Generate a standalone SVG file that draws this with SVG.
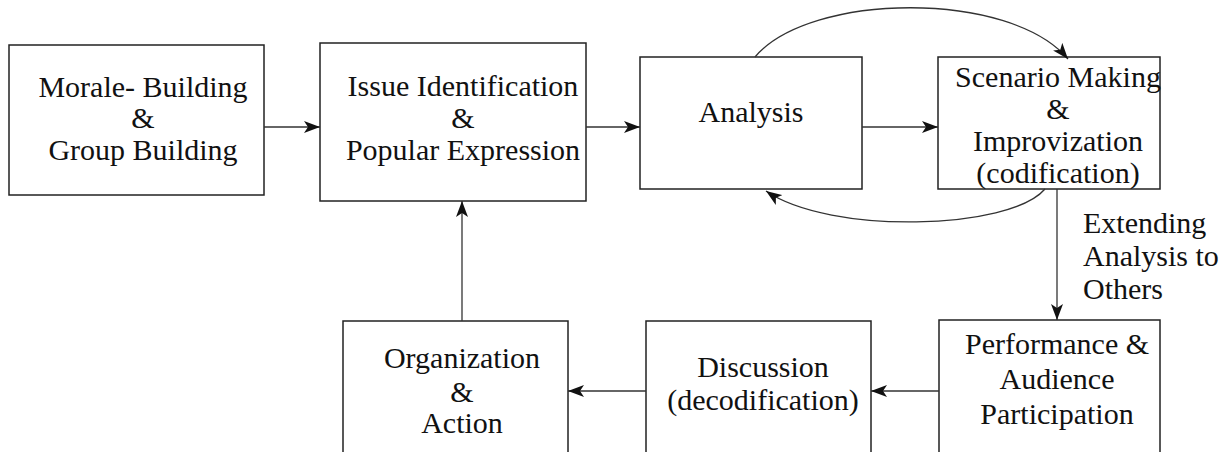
<svg xmlns="http://www.w3.org/2000/svg" width="1231" height="452" viewBox="0 0 1231 452">
<style>
.box{fill:#fff;stroke:#222;stroke-width:1.5}
.t{font-family:'Liberation Serif','Times New Roman',serif;font-size:30px;fill:#111;text-anchor:middle}
.c{fill:none;stroke:#333;stroke-width:1.3}
</style>
<defs>
<marker id="ah" viewBox="0 0 16 12" refX="16" refY="6" markerWidth="16" markerHeight="12" markerUnits="userSpaceOnUse" orient="auto">
<path d="M0,0 L16,6 L0,12 L4,6 Z" fill="#111"/>
</marker>
</defs>
<rect width="1231" height="452" fill="#fff"/>
<g id="n1"><rect class="box" x="9" y="45" width="255" height="150"/>
<text class="t" x="143" y="97">Morale- Building</text><text class="t" x="143" y="128">&amp;</text><text class="t" x="143" y="160">Group Building</text></g>
<g id="n2"><rect class="box" x="320" y="43" width="266" height="158"/>
<text class="t" x="463" y="96">Issue Identification</text><text class="t" x="463" y="128">&amp;</text><text class="t" x="463" y="160">Popular Expression</text></g>
<g id="n3"><rect class="box" x="640" y="57" width="222" height="132"/>
<text class="t" x="751" y="122">Analysis</text></g>
<g id="n4"><rect class="box" x="938" y="57" width="222" height="132"/>
<text class="t" x="1058" y="87">Scenario Making</text><text class="t" x="1058" y="119">&amp;</text><text class="t" x="1058" y="151">Improvization</text><text class="t" x="1058" y="183">(codification)</text></g>
<g id="n5"><rect class="box" x="939" y="320" width="221" height="140"/>
<text class="t" x="1057" y="354">Performance &amp;</text><text class="t" x="1057" y="389">Audience</text><text class="t" x="1057" y="424">Participation</text></g>
<g id="n6"><rect class="box" x="646" y="321" width="225" height="140"/>
<text class="t" x="763" y="377">Discussion</text><text class="t" x="763" y="410">(decodification)</text></g>
<g id="n7"><rect class="box" x="343" y="321" width="225" height="140"/>
<text class="t" x="462" y="368">Organization</text><text class="t" x="462" y="402">&amp;</text><text class="t" x="462" y="433">Action</text></g>
<g id="connectors">
<line class="c" x1="264" y1="127" x2="320" y2="127" marker-end="url(#ah)"/>
<line class="c" x1="586" y1="127" x2="640" y2="127" marker-end="url(#ah)"/>
<line class="c" x1="862" y1="127" x2="938" y2="127" marker-end="url(#ah)"/>
<path class="c" d="M755,57 C810,-8 1010,-10 1068,59" marker-end="url(#ah)"/>
<path class="c" d="M1045,189 C1010,230 830,235 766,191" marker-end="url(#ah)"/>
<line class="c" x1="1057" y1="189" x2="1057" y2="320" marker-end="url(#ah)"/>
<line class="c" x1="939" y1="391" x2="871" y2="391" marker-end="url(#ah)"/>
<line class="c" x1="646" y1="391" x2="568" y2="391" marker-end="url(#ah)"/>
<line class="c" x1="462" y1="321" x2="462" y2="201" marker-end="url(#ah)"/>
<text class="t" x="1083" y="233" style="text-anchor:start">Extending</text>
<text class="t" x="1083" y="266" style="text-anchor:start">Analysis to</text>
<text class="t" x="1083" y="299" style="text-anchor:start">Others</text>
</g>
</svg>
